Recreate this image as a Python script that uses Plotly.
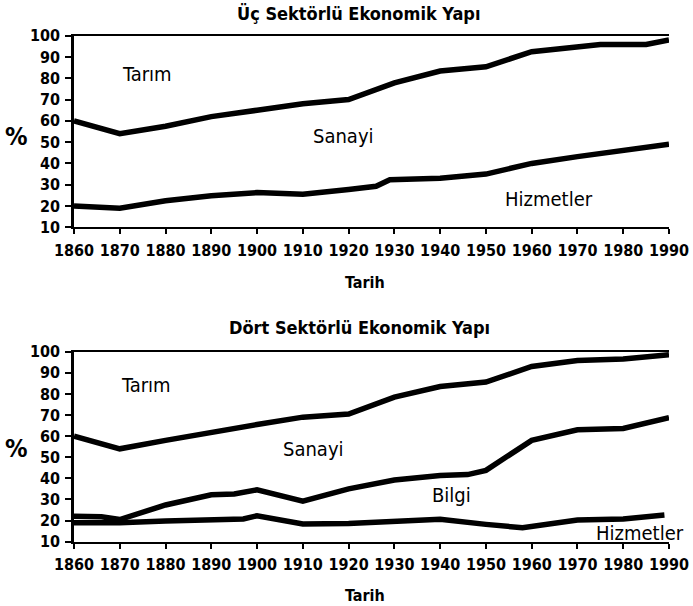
import plotly.graph_objects as go

W, H = 693, 606

# ---------------- data ----------------
decades = [1860, 1870, 1880, 1890, 1900, 1910, 1920, 1930, 1940, 1950, 1960, 1970, 1980, 1990]
tick_years = [1860, 1870, 1880, 1890, 1900, 1910, 1920, 1930, 1940, 1950, 1960, 1970, 1980, 1990]
y_ticks = [10, 20, 30, 40, 50, 60, 70, 80, 90, 100]

# Üç sektörlü (three-sector) chart
uc_top_years = [1860, 1870, 1880, 1890, 1900, 1910, 1920, 1930, 1940, 1950, 1960, 1970, 1975, 1985, 1990]
uc_tarim_sanayi = [60, 54, 57.5, 62, 65, 68, 70, 77.8, 83.4, 85.4, 92.5, 95.2, 95.9, 95.9, 98]
uc_low_years = [1860, 1865, 1870, 1880, 1890, 1900, 1910, 1920, 1926, 1929, 1940, 1950, 1960, 1970, 1980, 1990]
uc_sanayi_hizmet = [20, 19.5, 19, 22.5, 24.8, 26.3, 25.5, 27.8, 29.3, 32.3, 33, 35, 40, 43.2, 45.8, 49]

# Dört sektörlü (four-sector) chart
dort_tarim_sanayi = [60, 54, 58, 62, 65.5, 69, 70.5, 78.5, 83.5, 85.6, 93, 95.8, 96.5, 98.6]
dort_mid_years = [1860, 1866, 1870, 1880, 1890, 1895, 1900, 1910, 1920, 1930, 1940, 1946, 1950, 1960, 1970, 1980, 1990]
dort_sanayi_bilgi = [22, 21.8, 20.5, 27.4, 32.2, 32.6, 34.6, 29.2, 35, 39.2, 41.4, 41.8, 43.8, 58, 63, 63.6, 68.8]
dort_low_years = [1860, 1870, 1880, 1890, 1897, 1900, 1910, 1920, 1930, 1940, 1950, 1958, 1970, 1980, 1989]
dort_bilgi_hizmet = [19, 19, 19.8, 20.7, 20.8, 22.3, 18.4, 18.6, 19.5, 20.6, 18.2, 16.6, 20.3, 20.8, 22.6]

titles = ["Üç Sektörlü Ekonomik Yapı", "Dört Sektörlü Ekonomik Yapı"]
x_title = "Tarih"
y_title = "%"

uc_labels = ["Tarım", "Sanayi", "Hizmetler"]
uc_label_x = [1876, 1918.8, 1963.8]
uc_label_y = [82, 53.1, 23.3]
dort_labels = ["Tarım", "Sanayi", "Bilgi", "Hizmetler"]
dort_label_x = [1875.7, 1912.4, 1942.4, 1983.7]
dort_label_y = [84, 53.9, 32.2, 14.3]

# ---------------- styling ----------------
FONT = "DejaVu Sans Condensed, DejaVu Sans, sans-serif"
LINE_W = 5.5

def px_x(p):
    return p / W

def px_y(p):
    return 1 - p / H

fig = go.Figure()

def add_line(x, y, xa, ya):
    fig.add_trace(go.Scatter(
        x=x, y=y, mode="lines", xaxis=xa, yaxis=ya,
        line=dict(color="black", width=LINE_W, shape="linear"),
        showlegend=False, hoverinfo="skip", cliponaxis=False,
    ))

add_line(uc_top_years, uc_tarim_sanayi, "x", "y")
add_line(uc_low_years, uc_sanayi_hizmet, "x", "y")
add_line(decades, dort_tarim_sanayi, "x2", "y2")
add_line(dort_mid_years, dort_sanayi_bilgi, "x2", "y2")
add_line(dort_low_years, dort_bilgi_hizmet, "x2", "y2")

xdom = [px_x(74), px_x(669)]
top_dom = [px_y(227.3), px_y(35.7)]
bot_dom = [px_y(541.7), px_y(351.7)]

tickfont = dict(family=FONT, size=16, color="black", weight="bold")

def xaxis(anchor):
    return dict(
        domain=xdom, anchor=anchor, range=[1860, 1990],
        tickmode="array", tickvals=tick_years, ticktext=[str(t) for t in tick_years],
        showgrid=False, zeroline=False,
        showline=True, linecolor="black", linewidth=2, mirror=True,
        ticks="outside", ticklen=5, tickwidth=2, tickcolor="black",
        tickfont=tickfont, ticklabelstandoff=2, automargin=False,
    )

def yaxis(anchor, dom):
    return dict(
        domain=dom, anchor=anchor, range=[10, 100],
        tickmode="array", tickvals=y_ticks, ticktext=[str(t) for t in y_ticks],
        showgrid=False, zeroline=False,
        showline=True, linecolor="black", linewidth=2.5,
        ticks="outside", ticklen=6, tickwidth=2, tickcolor="black",
        tickfont=tickfont, ticklabelstandoff=2, automargin=False,
    )

annotations = []

def text(x, y, s, size, bold=False, xref="paper", yref="paper"):
    annotations.append(dict(
        x=x, y=y, xref=xref, yref=yref, text=f"<b>{s}</b>" if bold else s,
        showarrow=False, xanchor="center", yanchor="middle",
        font=dict(family=FONT, size=size, color="black"),
    ))

# titles
text(px_x(358), px_y(14), titles[0], 18, bold=True)
text(px_x(360), px_y(327), titles[1], 18, bold=True)
# axis titles
text(px_x(365), px_y(282), x_title, 16, bold=True)
text(px_x(365), px_y(595), x_title, 16, bold=True)
text(px_x(16), px_y(136), y_title, 25, bold=True)
text(px_x(16), px_y(448), y_title, 25, bold=True)

for s, x, y in zip(uc_labels, uc_label_x, uc_label_y):
    text(x, y, s, 20, xref="x", yref="y")
for s, x, y in zip(dort_labels, dort_label_x, dort_label_y):
    text(x, y, s, 20, xref="x2", yref="y2")

fig.update_layout(
    width=W, height=H,
    margin=dict(l=0, r=0, t=0, b=0, autoexpand=False),
    paper_bgcolor="white", plot_bgcolor="white",
    xaxis=xaxis("y"), yaxis=yaxis("x", top_dom),
    xaxis2=xaxis("y2"), yaxis2=yaxis("x2", bot_dom),
    annotations=annotations,
    showlegend=False,
)

# remove the browser's default 8px body margin so the figure fills the window exactly
fig.write_html(
    "out.html",
    config={"displayModeBar": False},
    post_script="document.body.style.margin='0';document.body.style.overflow='hidden';",
)
